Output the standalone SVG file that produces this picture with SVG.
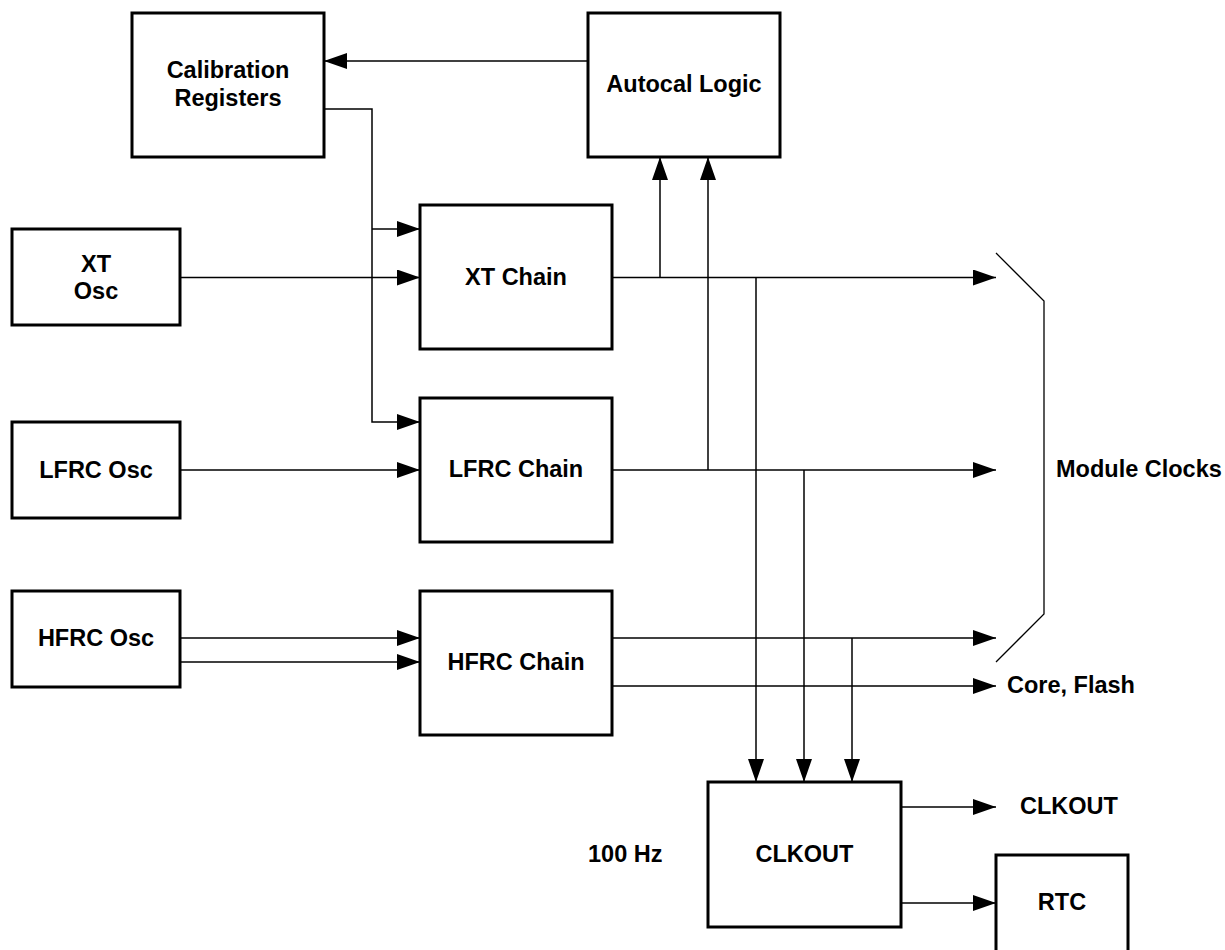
<svg xmlns="http://www.w3.org/2000/svg" width="1225" height="950" viewBox="0 0 1225 950">
<style>
.box{fill:#fff;stroke:#000;stroke-width:3}
.lbl{font-family:"Liberation Sans",Arial,sans-serif;font-weight:bold;font-size:23.5px;fill:#000}
.c{text-anchor:middle}
.w{fill:none;stroke:#000;stroke-width:1.5}
.br{fill:none;stroke:#000;stroke-width:1.3}
</style>
<defs>
<marker id="ah" markerUnits="userSpaceOnUse" markerWidth="23" markerHeight="16" refX="23" refY="8" orient="auto">
<path d="M0,0 L23,8 L0,16 z" fill="#000"/>
</marker>
</defs>
<rect width="1225" height="950" fill="#fff"/>
<g id="connectors">
<path class="w" d="M588,61 H324" marker-end="url(#ah)"/>
<path class="w" d="M324,109 H372 V422 H420" marker-end="url(#ah)"/>
<path class="w" d="M372,229 H420" marker-end="url(#ah)"/>
<path class="w" d="M180,277.5 H420" marker-end="url(#ah)"/>
<path class="w" d="M180,470 H420" marker-end="url(#ah)"/>
<path class="w" d="M180,638 H420" marker-end="url(#ah)"/>
<path class="w" d="M180,662 H420" marker-end="url(#ah)"/>
<path class="w" d="M612,277.5 H996" marker-end="url(#ah)"/>
<path class="w" d="M660,277.5 V157" marker-end="url(#ah)"/>
<path class="w" d="M756,277.5 V782" marker-end="url(#ah)"/>
<path class="w" d="M612,470 H996" marker-end="url(#ah)"/>
<path class="w" d="M708,470 V157" marker-end="url(#ah)"/>
<path class="w" d="M804,470 V782" marker-end="url(#ah)"/>
<path class="w" d="M612,638 H996" marker-end="url(#ah)"/>
<path class="w" d="M852,638 V782" marker-end="url(#ah)"/>
<path class="w" d="M612,686 H996" marker-end="url(#ah)"/>
<path class="w" d="M901,807 H996" marker-end="url(#ah)"/>
<path class="w" d="M901,903 H996" marker-end="url(#ah)"/>
<polyline class="br" points="996,253 1044,301 1044,614 996,662"/>
</g>
<g id="cal">
<rect class="box" x="132" y="13" width="192" height="144"/>
<text class="lbl c" x="228" y="78">Calibration</text>
<text class="lbl c" x="228" y="106">Registers</text>
</g>
<g id="autocal">
<rect class="box" x="588" y="13" width="192" height="144"/>
<text class="lbl c" x="684" y="92">Autocal Logic</text>
</g>
<g id="xtosc">
<rect class="box" x="12" y="229" width="168" height="96"/>
<text class="lbl c" x="96" y="272">XT</text>
<text class="lbl c" x="96" y="299">Osc</text>
</g>
<g id="lfrcosc">
<rect class="box" x="12" y="422" width="168" height="96"/>
<text class="lbl c" x="96" y="478">LFRC Osc</text>
</g>
<g id="hfrcosc">
<rect class="box" x="12" y="591" width="168" height="96"/>
<text class="lbl c" x="96" y="646">HFRC Osc</text>
</g>
<g id="xtchain">
<rect class="box" x="420" y="205" width="192" height="144"/>
<text class="lbl c" x="516" y="285">XT Chain</text>
</g>
<g id="lfrcchain">
<rect class="box" x="420" y="398" width="192" height="144"/>
<text class="lbl c" x="516" y="477">LFRC Chain</text>
</g>
<g id="hfrcchain">
<rect class="box" x="420" y="591" width="192" height="144"/>
<text class="lbl c" x="516" y="670">HFRC Chain</text>
</g>
<g id="clkout">
<rect class="box" x="708" y="782" width="193" height="145"/>
<text class="lbl c" x="804.5" y="862">CLKOUT</text>
</g>
<g id="rtc">
<rect class="box" x="996" y="855" width="132" height="150"/>
<text class="lbl c" x="1062" y="910">RTC</text>
</g>
<g id="labels">
<text class="lbl" x="1056" y="477">Module Clocks</text>
<text class="lbl" x="1007" y="693">Core, Flash</text>
<text class="lbl" x="1020" y="814">CLKOUT</text>
<text class="lbl" x="588" y="862">100 Hz</text>
</g>
</svg>
